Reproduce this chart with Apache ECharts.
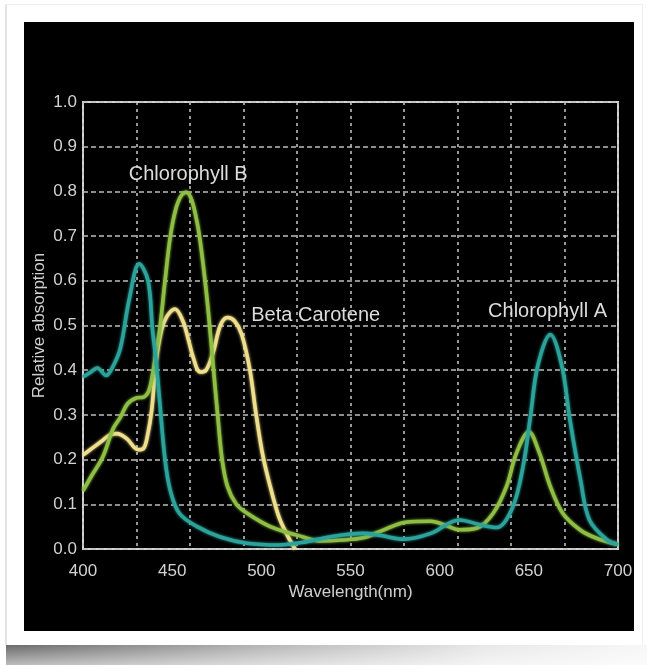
<!DOCTYPE html>
<html>
<head>
<meta charset="utf-8">
<script src="https://cdn.jsdelivr.net/npm/echarts@6/dist/echarts.min.js"></script>
<style>
  html, body { margin: 0; padding: 0; background: #ffffff; width: 647px; height: 665px; overflow: hidden; }
  #card { position: absolute; left: 5px; top: 4px; width: 638px; height: 641px; background: #fff;
          border-left: 2px solid #e4e4e4; border-top: 1px solid #f0f0f0; border-right: 1px solid #eeeeee; box-sizing: border-box; }
  #shadow { position: absolute; left: 6px; top: 645px; width: 641px; height: 20px;
            background: linear-gradient(to right, rgba(90,90,90,0.9), rgba(150,150,150,0.7) 40%, rgba(210,210,210,0.5) 75%, rgba(235,235,235,0.4)); }
  #shadow2 { position: absolute; left: 6px; top: 645px; width: 641px; height: 20px;
            background: linear-gradient(to bottom, rgba(255,255,255,0.0), rgba(255,255,255,0.55)); }
  #chart { position: absolute; left: 24px; top: 22px; width: 610px; height: 609px; background: #000; }
</style>
</head>
<body>
<div id="card"></div>
<div id="shadow"></div>
<div id="shadow2"></div>
<div id="chart"></div>
<script>
// ---- data (wavelength nm, relative absorption) ----
var chlorophyllA = [
  [400,0.385],[404,0.395],[408,0.405],[413,0.388],[417,0.41],[421,0.45],[426,0.56],[431.5,0.638],
  [436.5,0.60],[439,0.49],[441,0.42],[443,0.33],[446,0.20],[449,0.13],[454,0.08],[464,0.05],
  [477,0.027],[492,0.013],[510,0.009],[525,0.016],[538,0.027],[557,0.035],[567,0.03],[580,0.022],
  [595,0.035],[611,0.065],[622,0.055],[632,0.048],[641,0.094],[647,0.19],[651,0.30],[655,0.41],
  [662,0.48],[668.5,0.41],[673,0.29],[679,0.154],[684,0.065],[694,0.02],[700,0.01]
];
var chlorophyllB = [
  [400,0.13],[405,0.165],[411,0.205],[417,0.27],[421,0.295],[425,0.325],[430,0.338],[434,0.34],
  [437,0.355],[439,0.39],[441,0.44],[443,0.49],[446,0.6],[449,0.7],[452,0.76],[455,0.79],[458,0.798],
  [461,0.78],[464,0.73],[466,0.68],[469,0.58],[471,0.50],[473,0.41],[475.5,0.30],[478,0.20],
  [481,0.14],[486,0.10],[492,0.08],[505,0.05],[520,0.031],[533,0.018],[545,0.02],[557,0.025],
  [567,0.04],[581,0.06],[595,0.062],[604,0.052],[611,0.043],[621,0.047],[630,0.08],[637.5,0.14],
  [643,0.214],[650,0.262],[656,0.214],[662,0.14],[669,0.08],[679,0.042],[688,0.024],[700,0.01]
];
var betaCarotene = [
  [400,0.21],[405,0.225],[410,0.24],[415,0.255],[419,0.258],[424.5,0.247],[431,0.222],[434,0.225],
  [436,0.25],[438.5,0.31],[441,0.42],[444,0.49],[447,0.52],[451.6,0.537],[456,0.51],[459,0.47],
  [461.7,0.43],[465.6,0.396],[469,0.40],[473,0.44],[477,0.50],[481,0.518],[485,0.51],[489,0.48],
  [493.6,0.40],[497,0.303],[501,0.206],[506.5,0.117],[510.5,0.065],[516,0.02],[519,0]
];
var curveNames = ['Chlorophyll A', 'Chlorophyll B', 'Beta Carotene'];
var curveColors = ['#2ba39b', '#8fbe45', '#efdf8c'];
var annotations = [
  { text: 'Chlorophyll B', at: [459, 0.837] },
  { text: 'Beta Carotene', at: [530.5, 0.522] },
  { text: 'Chlorophyll A', at: [660.5, 0.531] }
];
var xMin = 400, xMax = 700, xLabelStep = 50, xGridStep = 30;
var yMin = 0, yMax = 1, yStep = 0.1;

var FONT = "'Liberation Sans', Arial, Helvetica, sans-serif";
var chart = echarts.init(document.getElementById('chart'), null, { renderer: 'canvas' });

function mkSeries(name, data, color) {
  return {
    name: name, type: 'line', data: data, xAxisIndex: 0, yAxisIndex: 0,
    smooth: 0.35, showSymbol: false, symbol: 'none', clip: false,
    lineStyle: { color: color, width: 3.6, shadowColor: color, shadowBlur: 3 },
    emphasis: { disabled: true }, animation: false
  };
}

chart.setOption({
  backgroundColor: '#000',
  animation: false,
  grid: { left: 59, right: 16, top: 80, bottom: 82, show: true, borderColor: '#d4d4d4', borderWidth: 2,
          backgroundColor: 'transparent', containLabel: false, outerBoundsMode: 'none' },
  xAxis: [
    {
      type: 'value', min: xMin, max: xMax, interval: xLabelStep, position: 'bottom',
      name: 'Wavelength(nm)', nameLocation: 'middle', nameGap: 35, nameMoveOverlap: false,
      nameTextStyle: { color: '#d0d0d0', fontSize: 17, fontFamily: FONT },
      axisLine: { show: false }, axisTick: { show: false },
      axisLabel: { color: '#d2d2d2', fontSize: 17, fontFamily: FONT, margin: 14 },
      splitLine: { show: false }
    },
    {
      type: 'value', min: xMin, max: xMax, interval: xGridStep, position: 'bottom',
      axisLine: { show: false }, axisTick: { show: false }, axisLabel: { show: false },
      splitLine: { show: true, lineStyle: { color: '#bdbdbd', width: 1.6, type: [3, 4] } }
    }
  ],
  yAxis: {
    type: 'value', min: yMin, max: yMax, interval: yStep,
    name: 'Relative absorption', nameLocation: 'middle', nameGap: 35, nameRotate: 90, nameMoveOverlap: false,
    nameTextStyle: { color: '#d0d0d0', fontSize: 17, fontFamily: FONT },
    axisLine: { show: false }, axisTick: { show: false },
    axisLabel: { color: '#d2d2d2', fontSize: 17, fontFamily: FONT, margin: 6,
                 formatter: function (v) { return v.toFixed(1); } },
    splitLine: { show: true, lineStyle: { color: '#bdbdbd', width: 1.6, type: [5, 3] } }
  },
  series: [
    mkSeries(curveNames[2], betaCarotene, curveColors[2]),
    mkSeries(curveNames[1], chlorophyllB, curveColors[1]),
    mkSeries(curveNames[0], chlorophyllA, curveColors[0])
  ]
});

var g = annotations.map(function (a) {
  var p = chart.convertToPixel({ xAxisIndex: 0, yAxisIndex: 0 }, a.at);
  return {
    type: 'text', x: p[0], y: p[1], z: 100,
    style: { text: a.text, fill: '#dcdcdc', font: '20px ' + FONT, textAlign: 'center', textVerticalAlign: 'middle' }
  };
});
chart.setOption({ graphic: g });
</script>
</body>
</html>
